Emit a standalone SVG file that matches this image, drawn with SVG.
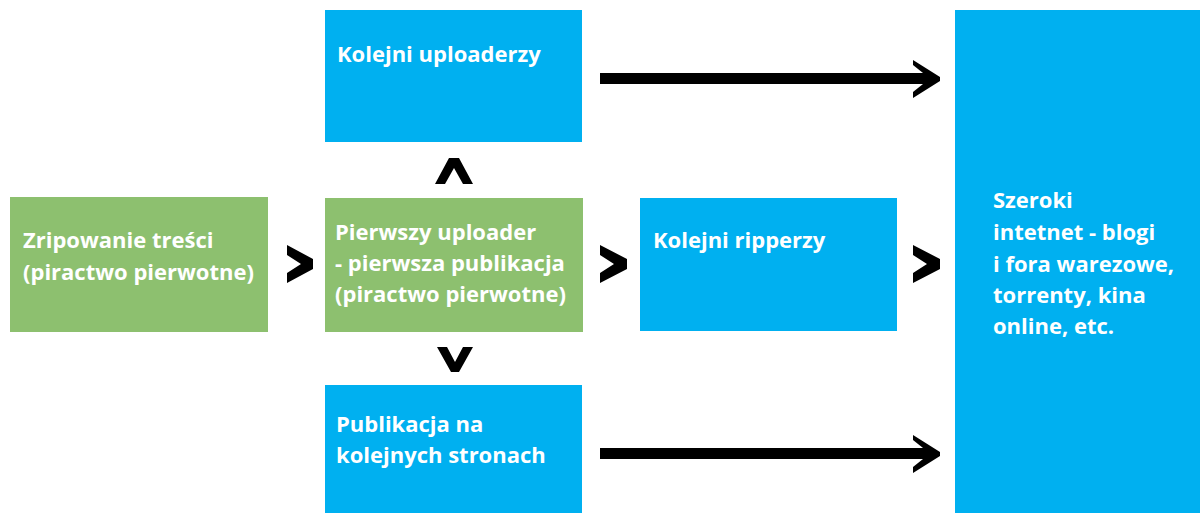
<svg xmlns="http://www.w3.org/2000/svg" width="1200" height="513" viewBox="0 0 1200 513">
<style>
.g{fill:#8DC06F}
.b{fill:#00B0F0}
.t{fill:#fff;font-family:"Open Sans","Liberation Sans",sans-serif;font-weight:700;font-size:22px}
.k{fill:#000}
</style>
<rect width="1200" height="513" fill="#fff"/>
<g id="node-zripowanie"><rect class="g" x="10" y="197" width="258" height="135"/><text class="t" x="23" y="248">Zripowanie treści</text><text class="t" x="23" y="280">(piractwo pierwotne)</text></g>
<g id="node-pierwszy"><rect class="g" x="325" y="198" width="258" height="134"/><text class="t" x="335" y="240">Pierwszy uploader</text><text class="t" x="335" y="271">- pierwsza publikacja</text><text class="t" x="335" y="302">(piractwo pierwotne)</text></g>
<g id="node-uploaderzy"><rect class="b" x="325" y="10" width="257" height="132"/><text class="t" x="337" y="62">Kolejni uploaderzy</text></g>
<g id="node-ripperzy"><rect class="b" x="640" y="198" width="257" height="133"/><text class="t" x="653" y="248">Kolejni ripperzy</text></g>
<g id="node-publikacja"><rect class="b" x="325" y="385" width="257" height="128"/><text class="t" x="336" y="432">Publikacja na</text><text class="t" x="336" y="463">kolejnych stronach</text></g>
<g id="node-internet"><rect class="b" x="955" y="10" width="245" height="503"/><text class="t" x="993" y="208">Szeroki</text><text class="t" x="993" y="240">intetnet - blogi</text><text class="t" x="993" y="272">i fora warezowe,</text><text class="t" x="993" y="303">torrenty, kina</text><text class="t" x="993" y="334">online, etc.</text></g>
<g id="connectors">
<polygon class="k" points="287,245 313,259 313,269 287,283 287,273 301,264 287,255"/>
<polygon class="k" points="600,245 627,259 627,269 600,283 600,273 614,264 600,255"/>
<polygon class="k" points="913,245 940,259 940,269 913,283 913,273 927,264 913,255"/>
<polygon class="k" points="435,184 449,158 459,158 473,184 463,184 454,168 445,184"/>
<polygon class="k" points="437,347 447,347 455,362 463,347 473,347 459,372 451,372"/>
<polygon class="k" points="600,73 923,73 913,65 913,60 940,77 940,81 913,98 913,92 923,84 600,84"/>
<polygon class="k" points="600,448 923,448 913,440 913,435 940,452 940,456 913,473 913,467 923,459 600,459"/>
</g>
</svg>
